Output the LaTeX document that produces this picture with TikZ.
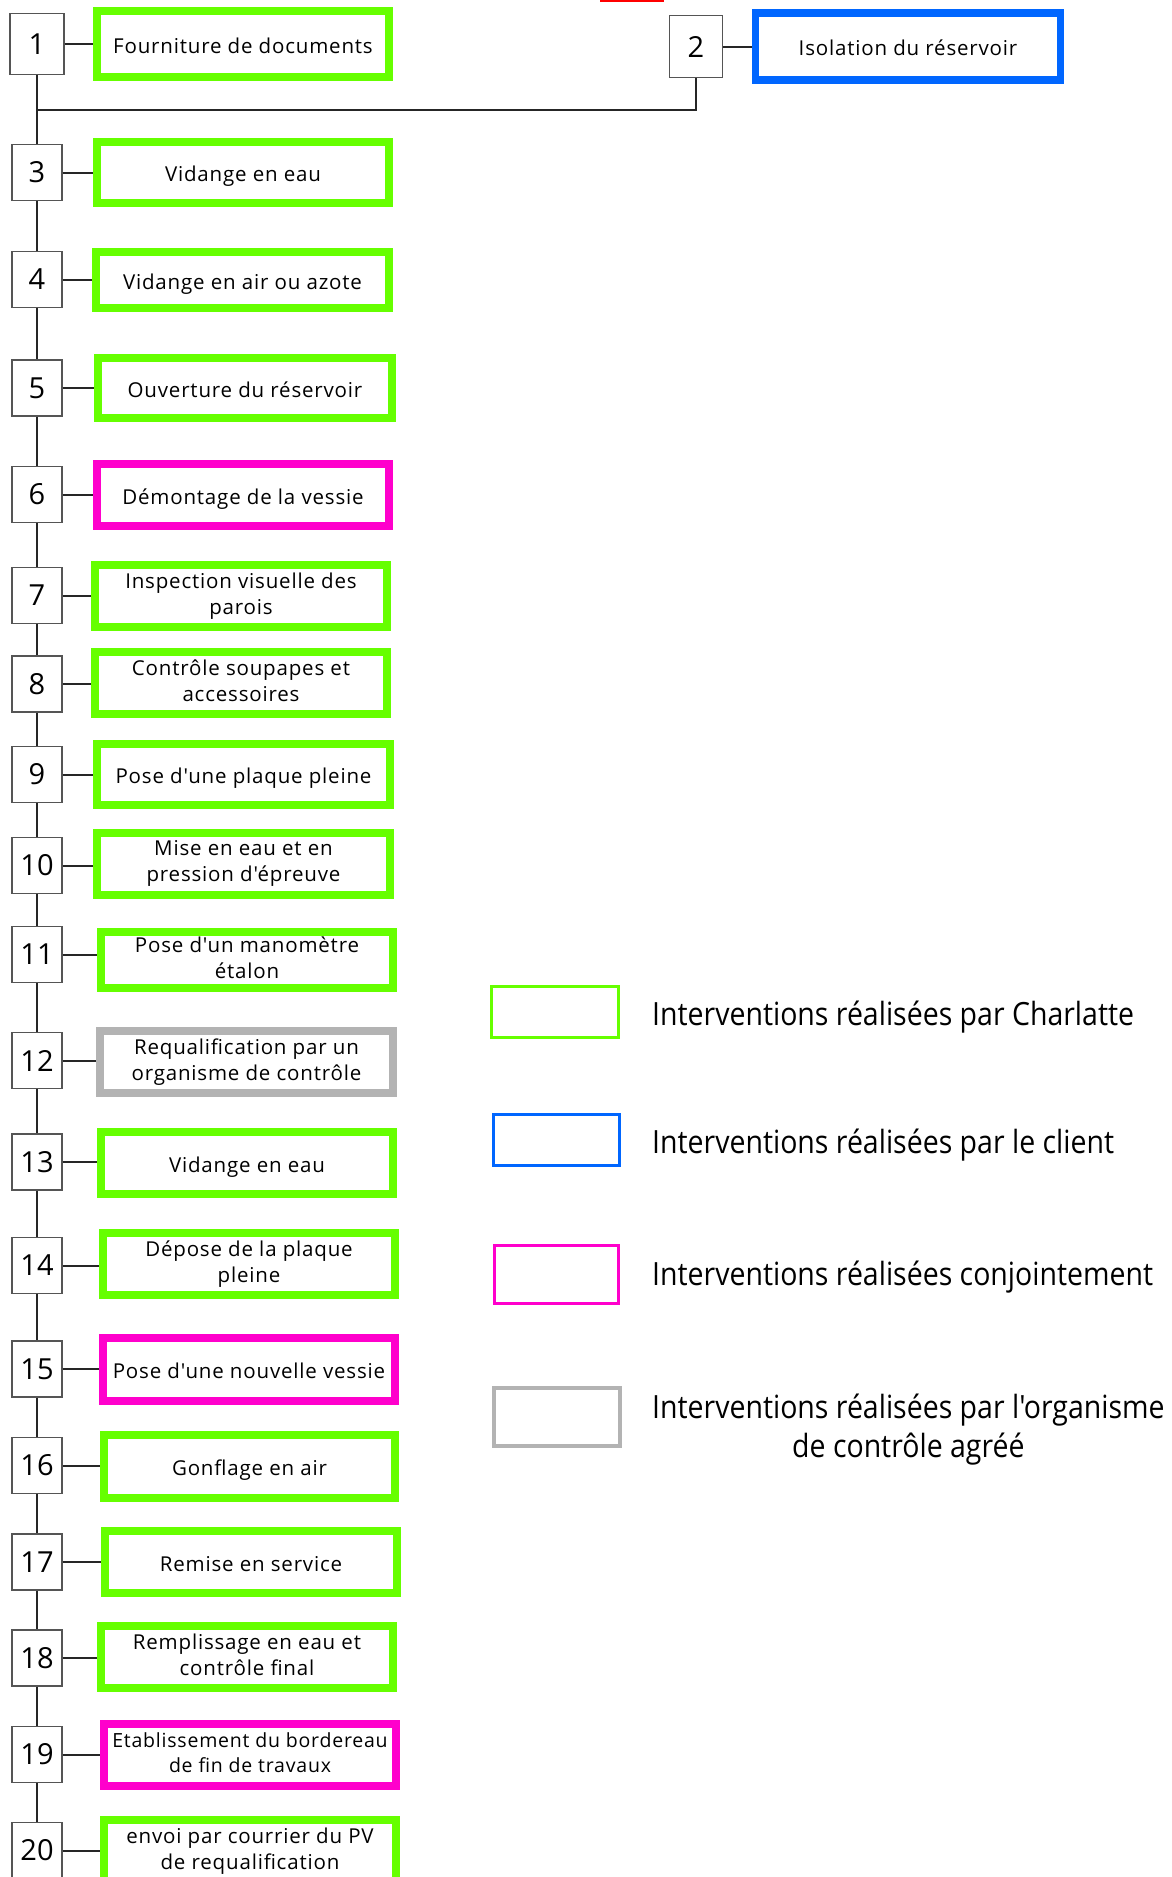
\documentclass[tikz,border=0pt]{standalone}
\usepackage{fontspec}
\setmainfont{Open Sans}[LetterSpace=4,Ligatures=TeXOff]
\newfontfamily\numfont{Open Sans}[Ligatures=TeXOff]
\newfontfamily\legfont{Open Sans}[FakeStretch=0.89,Ligatures=TeXOff]
\definecolor{cgreen}{HTML}{66FF00}
\definecolor{cpink}{HTML}{FF00CC}
\definecolor{cblue}{HTML}{0066FF}
\definecolor{cgray}{HTML}{B3B3B3}
\definecolor{cline}{HTML}{262626}
\definecolor{cnum}{HTML}{555555}
\tikzset{
  numbox/.style={draw=cnum, line width=1.4pt, fill=white, minimum width=50pt, minimum height=56pt, inner sep=0pt, font=\numfont\fontsize{29}{34}\selectfont},
  task/.style={line width=8pt, fill=white, inner sep=0pt, align=center, font=\fontsize{20.5}{26}\selectfont,
    execute at begin node={\rule{0pt}{24pt}}, execute at end node={\rule[-5.5pt]{0pt}{5.5pt}}},
  tgreen/.style={task, draw=cgreen},
  tpink/.style={task, draw=cpink},
  tgray/.style={task, draw=cgray},
  tblue/.style={task, draw=cblue, line width=7.5pt},
  conn/.style={draw=cline, line width=2pt},
  legbox/.style={line width=3pt},
  legtext/.style={font=\legfont\fontsize{32}{39}\selectfont, inner sep=0pt}
}
\begin{document}
\begin{tikzpicture}[x=1pt,y=-1pt]
\useasboundingbox[fill=white] (0,0) rectangle (1172,1877);
% small red sliver at the top edge
\draw[red, line width=2.5pt] (600,0.5) -- (664,0.5);

% number boxes
\node[numbox, minimum width=54pt, minimum height=61pt] (n1) at (37,44) {1};
\node[numbox, minimum width=53pt, minimum height=62pt] (n2) at (696,46.5) {2};
\node[numbox] (n3) at (37,172.5) {3};
\node[numbox] (n4) at (37,279.5) {4};
\node[numbox] (n5) at (37,388) {5};
\node[numbox] (n6) at (37,494.5) {6};
\node[numbox] (n7) at (37,595.5) {7};
\node[numbox] (n8) at (37,684) {8};
\node[numbox] (n9) at (37,774.5) {9};
\node[numbox] (n10) at (37,865.5) {10};
\node[numbox] (n11) at (37,954.5) {11};
\node[numbox] (n12) at (37,1060.5) {12};
\node[numbox] (n13) at (37,1162) {13};
\node[numbox] (n14) at (37,1265.5) {14};
\node[numbox] (n15) at (37,1369) {15};
\node[numbox] (n16) at (37,1465.5) {16};
\node[numbox] (n17) at (37,1562) {17};
\node[numbox] (n18) at (37,1658) {18};
\node[numbox] (n19) at (37,1754.5) {19};
\node[numbox] (n20) at (37,1850.5) {20};

% task boxes
\node[tgreen, minimum width=292pt, minimum height=66pt] (t1) at (243,44) {Fourniture de documents};
\node[tblue, minimum width=305pt, minimum height=67pt] (t2) at (908,46.5) {Isolation du réservoir};
\node[tgreen, minimum width=292pt, minimum height=61pt] (t3) at (243,172.5) {Vidange en eau};
\node[tgreen, minimum width=293pt, minimum height=56pt] (t4) at (242.5,280) {Vidange en air ou azote};
\node[tgreen, minimum width=294pt, minimum height=60pt] (t5) at (245,388) {Ouverture du réservoir};
\node[tpink, minimum width=292pt, minimum height=62pt] (t6) at (243,495) {Démontage de la vessie};
\node[tgreen, minimum width=292pt, minimum height=62pt] (t7) at (241,596) {Inspection visuelle des\\parois};
\node[tgreen, minimum width=292pt, minimum height=62pt] (t8) at (241,683) {Contrôle soupapes et\\accessoires};
\node[tgreen, minimum width=293pt, minimum height=61pt] (t9) at (243.5,774.5) {Pose d'une plaque pleine};
\node[tgreen, minimum width=293pt, minimum height=62pt] (t10) at (243.5,864) {Mise en eau et en\\pression d'épreuve};
\node[tgreen, minimum width=292pt, minimum height=56pt] (t11) at (247,960) {Pose d'un manomètre\\étalon};
\node[tgray, minimum width=293pt, minimum height=62pt] (t12) at (246.5,1062) {Requalification par un\\organisme de contrôle};
\node[tgreen, minimum width=292pt, minimum height=62pt] (t13) at (247,1163) {Vidange en eau};
\node[tgreen, minimum width=292pt, minimum height=62pt] (t14) at (249,1264) {Dépose de la plaque\\pleine};
\node[tpink, minimum width=292pt, minimum height=63pt] (t15) at (249,1369.5) {Pose d'une nouvelle vessie};
\node[tgreen, minimum width=291pt, minimum height=63pt] (t16) at (249.5,1466.5) {Gonflage en air};
\node[tgreen, minimum width=292pt, minimum height=62pt] (t17) at (251,1562) {Remise en service};
\node[tgreen, minimum width=292pt, minimum height=62pt] (t18) at (247,1657) {Remplissage en eau et\\contrôle final};
\node[tpink, minimum width=292pt, minimum height=62pt, font=\fontsize{19.5}{25}\selectfont] (t19) at (250,1755) {Etablissement du bordereau\\de fin de travaux};
\node[tgreen, minimum width=292pt, minimum height=62pt] (t20) at (250,1851) {envoi par courrier du PV\\de requalification};

% trunk
\draw[conn] (n1.south) -- (n3.north);
\draw[conn] (n3.south) -- (n4.north);
\draw[conn] (n4.south) -- (n5.north);
\draw[conn] (n5.south) -- (n6.north);
\draw[conn] (n6.south) -- (n7.north);
\draw[conn] (n7.south) -- (n8.north);
\draw[conn] (n8.south) -- (n9.north);
\draw[conn] (n9.south) -- (n10.north);
\draw[conn] (n10.south) -- (n11.north);
\draw[conn] (n11.south) -- (n12.north);
\draw[conn] (n12.south) -- (n13.north);
\draw[conn] (n13.south) -- (n14.north);
\draw[conn] (n14.south) -- (n15.north);
\draw[conn] (n15.south) -- (n16.north);
\draw[conn] (n16.south) -- (n17.north);
\draw[conn] (n17.south) -- (n18.north);
\draw[conn] (n18.south) -- (n19.north);
\draw[conn] (n19.south) -- (n20.north);
\coordinate (j) at (37,110);
\draw[conn] (j) -| (n2.south);

% horizontal links
\foreach \i in {1,2,...,20}{
  \draw[conn] (n\i.east) -- (n\i.east -| t\i.west);
}

% legend
\draw[legbox, draw=cgreen] (491.5,986.5) rectangle (618.5,1037.5);
\draw[legbox, draw=cblue] (493.5,1114.5) rectangle (619.5,1165.5);
\draw[legbox, draw=cpink] (494.5,1245.5) rectangle (618.5,1303.5);
\draw[legbox, draw=cgray, line width=4pt] (494,1388) rectangle (620,1446);
\node[legtext, anchor=base west] (l1) at (652,1025) {Interventions réalisées par Charlatte};
\node[legtext, anchor=base west] (l2) at (652,1153) {Interventions réalisées par le client};
\node[legtext, anchor=base west] (l3) at (652,1285) {Interventions réalisées conjointement};
\node[legtext, anchor=base west] (l4) at (652,1418) {Interventions réalisées par l'organisme};
\node[legtext, anchor=base, yshift=-39pt] (l4b) at (l4.base) {de contrôle agréé};
\end{tikzpicture}
\end{document}
